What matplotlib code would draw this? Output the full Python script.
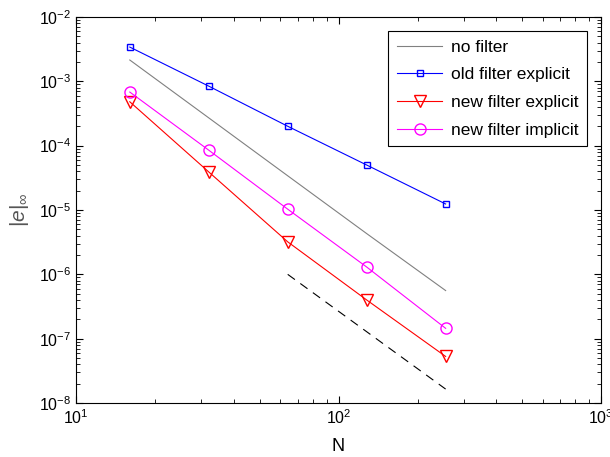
import matplotlib
matplotlib.use('Agg')
import matplotlib.pyplot as plt

plt.rcParams['font.family'] = ['Liberation Sans', 'DejaVu Sans']
plt.rcParams['mathtext.fontset'] = 'custom'
plt.rcParams['mathtext.rm'] = 'Liberation Sans'
plt.rcParams['mathtext.it'] = 'Liberation Sans:italic'

N = [16, 32, 64, 128, 256]
no_filter = [2.14e-3, 2.7e-4, 3.4e-5, 4.3e-6, 5.6e-7]
old_explicit = [3.4e-3, 8.4e-4, 2.0e-4, 5.0e-5, 1.24e-5]
new_explicit = [4.8e-4, 3.9e-5, 3.2e-6, 4.0e-7, 5.3e-8]
new_implicit = [6.8e-4, 8.5e-5, 1.03e-5, 1.3e-6, 1.45e-7]
ref_N = [64, 256]
ref_slope = [1.0e-6, 1.65e-8]

fig = plt.figure(figsize=(6.1, 4.57), dpi=100)
ax = fig.add_axes([0.125, 0.118, 0.86, 0.845])

ax.loglog(N, no_filter, color=(0.5, 0.5, 0.5), lw=0.8, label='no filter')
ax.loglog(N, old_explicit, 'bs-', lw=0.8, ms=5, mfc='none', mew=1.0, label='old filter explicit')
ax.loglog(N, new_explicit, 'rv-', lw=0.8, ms=8, mfc='none', mew=1.0, label='new filter explicit')
ax.loglog(N, new_implicit, 'o-', color='magenta', lw=0.8, ms=8, mfc='none', mew=1.0, label='new filter implicit')
ax.loglog(ref_N, ref_slope, 'k--', lw=0.8, dashes=(8, 6))

ax.set_xlim(10, 1000)
ax.set_ylim(1e-8, 1e-2)
ax.tick_params(which='both', direction='in', top=True, right=True, labelsize=11.5)
ax.tick_params(which='major', length=5)
ax.tick_params(which='minor', length=3)
ax.set_xlabel('N', fontsize=13, labelpad=8)
ax.set_ylabel(r'$|e|_\infty$', fontsize=15, color='#555555', labelpad=6)

leg = ax.legend(loc='upper right', fontsize=12.5, fancybox=False, edgecolor='black',
                framealpha=1, borderaxespad=0.8, handlelength=2.6, handletextpad=0.5,
                labelspacing=0.72, borderpad=0.5)
leg.get_frame().set_linewidth(0.8)

fig.savefig('out.png', dpi=100)
